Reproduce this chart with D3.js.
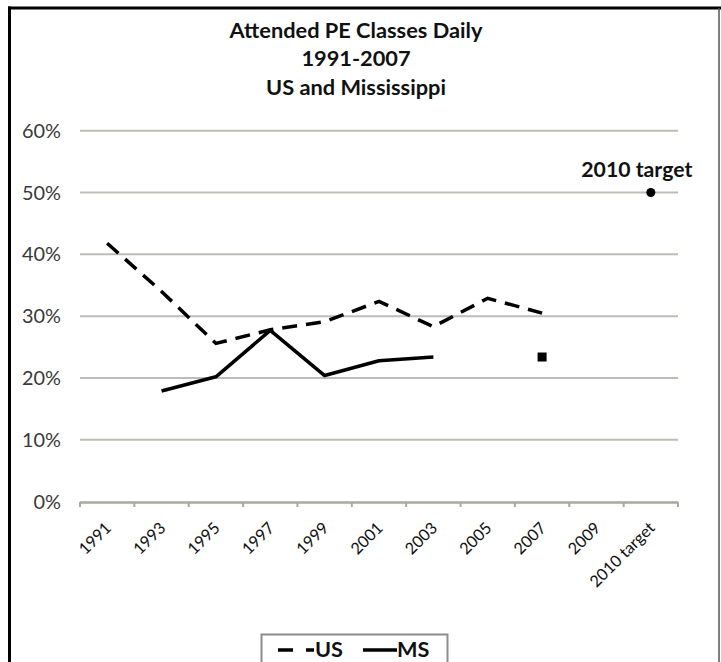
<!DOCTYPE html>
<html>
<head>
<meta charset="utf-8">
<script src="https://cdn.jsdelivr.net/npm/d3@7"></script>
<style>
  body { margin: 0; background: #fff; }
  svg { display: block; font-family: Lato, "Open Sans", sans-serif; }
</style>
</head>
<body>
<div id="chart"></div>
<script>
// data
let years = ["1991", "1993", "1995", "1997", "1999", "2001", "2003", "2005", "2007", "2009", "2010 target"];
let usValues = [41.8, 34.0, 25.6, 27.8, 29.1, 32.4, 28.3, 32.9, 30.5, null, null];
let msValues = [null, 17.9, 20.2, 27.7, 20.4, 22.8, 23.4, null, 23.4, null, null];
let targetValues = [null, null, null, null, null, null, null, null, null, null, 50];
let yTicks = [0, 10, 20, 30, 40, 50, 60];
let titleLines = ["Attended PE Classes Daily", "1991-2007", "US and Mississippi"];

let W = 721, H = 662;
let svg = d3.select("#chart").append("svg")
    .attr("width", W)
    .attr("height", H);

svg.append("rect").attr("width", W).attr("height", H).attr("fill", "#fff");

// frame
svg.append("line").attr("x1", 8).attr("x2", W).attr("y1", 8).attr("y2", 8)
    .attr("stroke", "#000").attr("stroke-width", 3);
svg.append("line").attr("x1", 9.5).attr("x2", 9.5).attr("y1", 6.5).attr("y2", H)
    .attr("stroke", "#000").attr("stroke-width", 3);
svg.append("line").attr("x1", 719).attr("x2", 719).attr("y1", 8).attr("y2", H)
    .attr("stroke", "#555").attr("stroke-width", 1.5);

// set font size so the text has a given width
function fitWidth(sel, target) {
    sel.style("font-size", "20px");
    let w = sel.node().getComputedTextLength();
    let size = 20 * target / w;
    sel.style("font-size", size + "px");
    return size;
}

// scales
let x = d3.scaleBand().domain(years).range([80, 678]);
let y = d3.scaleLinear().domain([0, 60]).range([501.7, 130.7]);
let cx = d => x(d) + x.bandwidth() / 2;

// title
let title = svg.append("g").attr("font-weight", "bold").attr("fill", "#111").attr("text-anchor", "middle");
let titleY = [37.5, 66, 94.5];
let t0 = title.append("text").attr("x", 356).attr("y", titleY[0]).text(titleLines[0]);
let titleSize = fitWidth(t0, 253);
titleLines.slice(1).forEach((t, i) => {
    title.append("text").attr("x", 356).attr("y", titleY[i + 1])
        .style("font-size", titleSize + "px").text(t);
});

// gridlines
svg.append("g").selectAll("line")
    .data(yTicks.filter(d => d > 0))
    .join("line")
    .attr("x1", 80).attr("x2", 678)
    .attr("y1", d => y(d)).attr("y2", d => y(d))
    .attr("stroke", "#bdbdb6").attr("stroke-width", 2);

// y labels
let yLab = svg.append("g").attr("fill", "#3a3a3a").attr("text-anchor", "end");
let yLabels = yLab.selectAll("text")
    .data(yTicks)
    .join("text")
    .attr("x", 61)
    .attr("y", d => y(d) + 7)
    .text(d => d + "%");
let ySize = fitWidth(yLabels.filter(d => d === 60), 39);
yLabels.style("font-size", ySize + "px");

// x axis with ticks between categories
let xAxis = svg.append("g");
xAxis.append("line").attr("x1", 80).attr("x2", 678).attr("y1", 502.5).attr("y2", 502.5)
    .attr("stroke", "#a9a9a2").attr("stroke-width", 2.5);
xAxis.selectAll("line.tick")
    .data(years.map(d => x(d)).concat([678]))
    .join("line")
    .attr("class", "tick")
    .attr("x1", d => d).attr("x2", d => d)
    .attr("y1", 502).attr("y2", 507)
    .attr("stroke", "#a9a9a2").attr("stroke-width", 2);

let xLabels = xAxis.selectAll("text")
    .data(years)
    .join("text")
    .attr("text-anchor", "end")
    .attr("fill", "#111")
    .attr("transform", d => "translate(" + (cx(d) + 5) + ",529) rotate(-45)")
    .text(d => d);
let xSize = fitWidth(xLabels.filter(d => d === "2010 target"), 84);
xLabels.style("font-size", xSize + "px");

// series
let usData = years.map((d, i) => ({ year: d, v: usValues[i] }));
let msData = years.map((d, i) => ({ year: d, v: msValues[i] }));
let line = d3.line()
    .defined(d => d.v !== null)
    .x(d => cx(d.year))
    .y(d => y(d.v));

svg.append("path")
    .datum(usData)
    .attr("fill", "none")
    .attr("stroke", "#000")
    .attr("stroke-width", 3.5)
    .attr("stroke-dasharray", "15,9")
    .attr("d", line);

svg.append("path")
    .datum(msData)
    .attr("fill", "none")
    .attr("stroke", "#000")
    .attr("stroke-width", 3.5)
    .attr("stroke-linejoin", "round")
    .attr("d", line);

// lone MS points get a square marker
let loneMs = msData.filter((d, i) => d.v !== null &&
    (i === 0 || msData[i - 1].v === null) &&
    (i === msData.length - 1 || msData[i + 1].v === null));
svg.append("g").selectAll("rect")
    .data(loneMs)
    .join("rect")
    .attr("x", d => cx(d.year) - 4.5)
    .attr("y", d => y(d.v) - 4.5)
    .attr("width", 9).attr("height", 9)
    .attr("fill", "#000");

// 2010 target point and label
let targetData = years.map((d, i) => ({ year: d, v: targetValues[i] })).filter(d => d.v !== null);
svg.append("g").selectAll("circle")
    .data(targetData)
    .join("circle")
    .attr("cx", d => cx(d.year))
    .attr("cy", d => y(d.v))
    .attr("r", 4.5)
    .attr("fill", "#000");
let tLab = svg.append("g").selectAll("text")
    .data(targetData)
    .join("text")
    .attr("x", d => cx(d.year) - 14)
    .attr("y", d => y(d.v) - 16)
    .attr("text-anchor", "middle")
    .attr("font-weight", "bold")
    .attr("fill", "#111")
    .text(d => d.year);
fitWidth(tLab, 111);

// legend
let legend = svg.append("g");
legend.append("rect")
    .attr("x", 261.5).attr("y", 634.5)
    .attr("width", 186).attr("height", 50)
    .attr("fill", "#fff").attr("stroke", "#8c8c8c").attr("stroke-width", 2);
legend.append("line")
    .attr("x1", 278).attr("x2", 314).attr("y1", 650).attr("y2", 650)
    .attr("stroke", "#000").attr("stroke-width", 3.5).attr("stroke-dasharray", "15,13");
let usText = legend.append("text").attr("x", 315).attr("y", 657)
    .attr("font-weight", "bold").attr("fill", "#111").text("US");
let legSize = fitWidth(usText, 28);
legend.append("line")
    .attr("x1", 363).attr("x2", 397).attr("y1", 650).attr("y2", 650)
    .attr("stroke", "#000").attr("stroke-width", 3.5);
legend.append("text").attr("x", 397).attr("y", 657)
    .attr("font-weight", "bold").attr("fill", "#111")
    .style("font-size", legSize + "px").text("MS");
</script>
</body>
</html>
